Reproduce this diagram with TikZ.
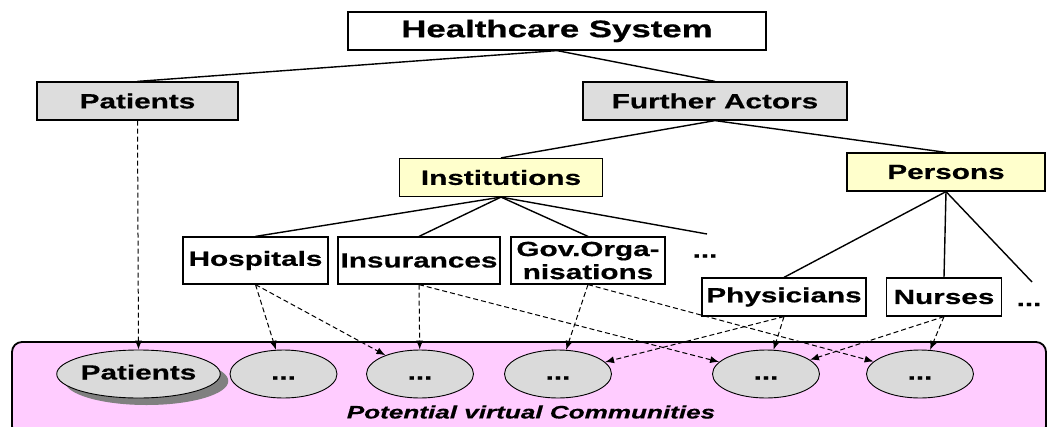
\documentclass[tikz,border=0pt]{standalone}
\usepackage{fontspec}
\setmainfont{Liberation Sans}[FakeStretch=1.45,FakeBold=0.6]
\usetikzlibrary{shapes.geometric,shadows,arrows.meta}
\definecolor{boxgray}{RGB}{221,221,221}
\definecolor{boxyellow}{RGB}{255,255,204}
\definecolor{commpink}{RGB}{255,204,255}
\definecolor{ellgray}{RGB}{218,218,218}

\begin{document}
\begin{tikzpicture}[x=1pt,y=-1pt,>={Latex[length=9pt,width=7pt]},
    every node/.style={font=\fontsize{20.5}{23}\selectfont\bfseries,inner sep=0pt},
    plainbox/.style={draw,line width=1.2pt,fill=white,minimum height=38pt},
    graybox/.style={plainbox,fill=boxgray},
    yellowbox/.style={plainbox,fill=boxyellow},
    leafbox/.style={plainbox,align=center},
    comm/.style={ellipse,draw,line width=0.9pt,fill=ellgray,minimum width=107pt,minimum height=48pt,
      text height=14pt,text depth=3pt},
    tree/.style={line width=1.4pt},
    link/.style={line width=1pt,dash pattern=on 5pt off 3pt,->}]
  \useasboundingbox (0,0) rectangle (1047,426);
  \clip (0,0) rectangle (1047,426);

  % band of communities
  \draw[line width=1.8pt,fill=commpink,rounded corners=10pt] (12,342) rectangle (1046,436);

  % hierarchy
  \node[plainbox,minimum width=418pt,font=\fontsize{24}{26}\selectfont\bfseries] (hs) at (557,31) {Healthcare System};
  \node[graybox,minimum width=201pt] (pat) at (137.5,101) {Patients};
  \node[graybox,minimum width=264pt] (fa) at (715,101) {Further Actors};
  \node[yellowbox,minimum width=203pt] (inst) at (501,177.5) {Institutions};
  \node[yellowbox,minimum width=198pt] (pers) at (946,172) {Persons};

  \node[leafbox,minimum width=145pt,minimum height=47pt] (hosp) at (255.5,260.5) {Hospitals};
  \node[leafbox,minimum width=162pt,minimum height=47pt] (ins) at (419,260.5) {Insurances};
  \node[leafbox,minimum width=154pt,minimum height=47pt] (gov) at (588,260.5) {Gov.Orga-\\nisations};
  \node (idots) at (705,256) {...};
  \coordinate (iend) at (707,234);

  \node[leafbox,minimum width=164pt] (phys) at (784,297) {Physicians};
  \node[leafbox,minimum width=115pt] (nurs) at (944,297) {Nurses};
  \node (pdots) at (1029,304.5) {...};
  \coordinate (pend) at (1032,282);

  % communities
  \node[comm,minimum width=147pt,drop shadow={shadow xshift=8pt,shadow yshift=-7pt,opacity=1,fill=black!50}] (ce1) at (138.5,374) {Patients};
  \node[comm] (ce2) at (283.5,374) {...};
  \node[comm] (ce3) at (420,374) {...};
  \node[comm] (ce4) at (558,374) {...};
  \node[comm] (ce5) at (766,374) {...};
  \node[comm] (ce6) at (920,374) {...};
  \node[font=\fontsize{18}{20}\selectfont\bfseries\itshape] (cap) at (531,412) {Potential virtual Communities};

  % tree lines
  \draw[tree] (hs.south) -- (pat.north);
  \draw[tree] (hs.south) -- (fa.north);
  \draw[tree] (fa.south) -- (inst.north);
  \draw[tree] (fa.south) -- (pers.north);
  \draw[tree] (inst.south) -- (hosp.north);
  \draw[tree] (inst.south) -- (ins.north);
  \draw[tree] (inst.south) -- (gov.north);
  \draw[tree] (inst.south) -- (iend);
  \draw[tree] (pers.south) -- (phys.north);
  \draw[tree] (pers.south) -- (nurs.north);
  \draw[tree] (pers.south) -- (pend);

  % dashed links
  \draw[link] (pat.south) -- (ce1.north);
  \draw[link] (hosp.south) -- (ce2);
  \draw[link] (hosp.south) -- (ce3);
  \draw[link] (ins.south) -- (ce3);
  \draw[link] (ins.south) -- (ce5);
  \draw[link] (gov.south) -- (ce4);
  \draw[link] (gov.south) -- (ce6);
  \draw[link] (phys.south) -- (ce4);
  \draw[link] (phys.south) -- (ce5);
  \draw[link] (nurs.south) -- (ce5);
  \draw[link] (nurs.south) -- (ce6);
\end{tikzpicture}
\end{document}
